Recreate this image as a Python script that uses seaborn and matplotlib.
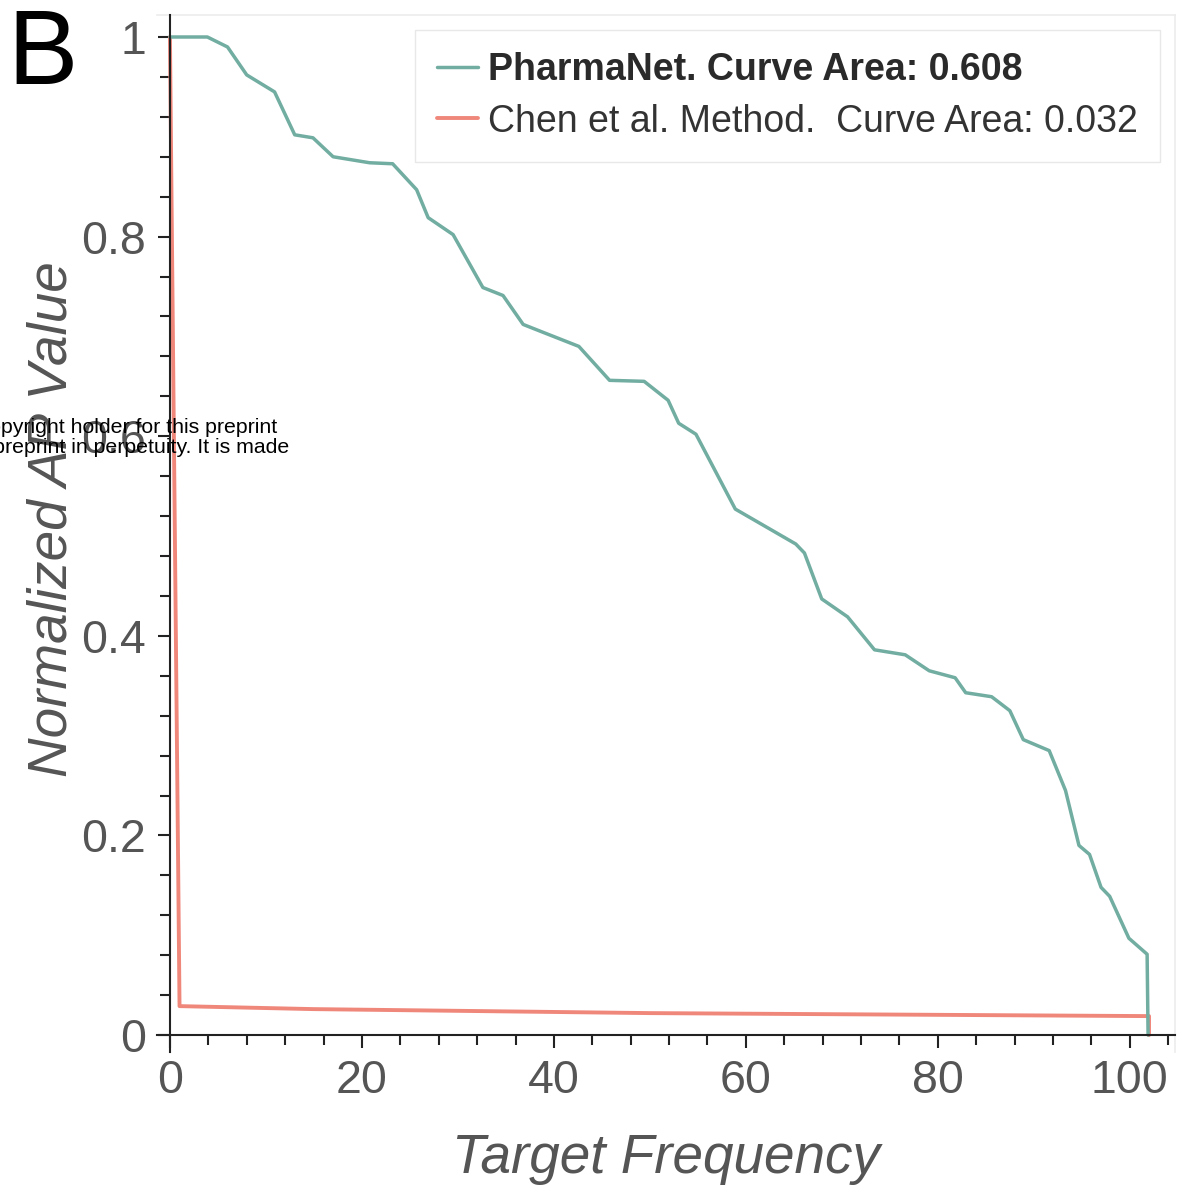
import matplotlib
matplotlib.use("Agg")
import matplotlib.pyplot as plt
from matplotlib.ticker import MultipleLocator
import seaborn as sns

# values
pharmanet_x = [0, 3.9, 6.0, 8.0, 10.9, 13.0, 14.9, 17.0, 20.8, 23.2, 25.7, 26.9, 29.5,
               32.6, 34.7, 36.8, 38.9, 42.6, 45.8, 49.4, 51.9, 53.0, 54.8, 58.9, 61.6,
               65.2, 66.1, 67.9, 70.6, 73.4, 76.6, 79.1, 81.8, 82.9, 85.6, 87.5, 88.9,
               91.6, 93.3, 94.7, 95.8, 97.0, 97.9, 99.9, 101.8, 101.9]
pharmanet_y = [1.0, 1.0, 0.99, 0.962, 0.945, 0.902, 0.899, 0.880, 0.874, 0.873, 0.847,
               0.819, 0.802, 0.749, 0.741, 0.712, 0.704, 0.690, 0.656, 0.655, 0.636,
               0.613, 0.602, 0.527, 0.512, 0.492, 0.483, 0.437, 0.419, 0.386, 0.381,
               0.365, 0.358, 0.343, 0.339, 0.325, 0.296, 0.285, 0.245, 0.190, 0.181,
               0.148, 0.139, 0.097, 0.081, 0.0]
chen_x = [0, 1.0, 15, 50, 102, 102]
chen_y = [1.0, 0.029, 0.026, 0.022, 0.019, 0.0]

labels = ["PharmaNet. Curve Area: 0.608", "Chen et al. Method.  Curve Area: 0.032"]
colors = ["#72ada2", "#f0877b"]
x_ticks = [0, 20, 40, 60, 80, 100]
y_ticks = [0, 0.2, 0.4, 0.6, 0.8, 1]
y_ticklabels = ["0", "0.2", "0.4", "0.6", "0.8", "1"]

sns.set_theme(style="white")
plt.rcParams["font.family"] = ["Liberation Sans", "DejaVu Sans"]

fig = plt.figure(figsize=(11.83, 11.94), dpi=100)
ax = fig.add_axes([0.1331, 0.1189, 0.8601, 0.8685])

sns.lineplot(x=chen_x, y=chen_y, ax=ax, color=colors[1], lw=2.8, sort=False,
             estimator=None, label=labels[1], zorder=2)
sns.lineplot(x=pharmanet_x, y=pharmanet_y, ax=ax, color=colors[0], lw=2.5, sort=False,
             estimator=None, label=labels[0], zorder=3)

ax.set_xlim(-1.3, 104.7)
ax.set_ylim(-0.017, 1.022)

# axes cross at the origin, faint frame on top and right
ax.spines["left"].set_position(("data", 0))
ax.spines["bottom"].set_position(("data", 0))
for s in ["left", "bottom"]:
    ax.spines[s].set_color("#222222")
    ax.spines[s].set_linewidth(1.5)
    ax.spines[s].set_zorder(5)
for s in ["top", "right"]:
    ax.spines[s].set_color("#ececec")
    ax.spines[s].set_linewidth(1.2)

ax.set_xticks(x_ticks)
ax.set_yticks(y_ticks)
ax.set_yticklabels(y_ticklabels)
ax.xaxis.set_minor_locator(MultipleLocator(4))
ax.yaxis.set_minor_locator(MultipleLocator(0.04))
ax.tick_params(which="both", direction="out", color="#222222", width=1.5,
               labelcolor="#555555", bottom=True, left=True)
ax.tick_params(which="major", length=9, labelsize=33.5, pad=8)
ax.tick_params(which="minor", length=7)

ax.set_xlabel("Target Frequency", fontsize=39.5, style="italic", color="#555555", labelpad=22)
ax.set_ylabel("")
fig.text(0.044, 0.565, "Normalized AP Value", fontsize=39.5, style="italic",
         color="#555555", rotation=90, ha="center", va="center")

handles, _ = ax.get_legend_handles_labels()
leg = ax.legend(handles[::-1], labels, loc="upper right",
                bbox_to_anchor=(1160 / 1183, 1 - 30 / 1194), bbox_transform=fig.transFigure,
                borderaxespad=0, fontsize=27, handlelength=1.1, handletextpad=0.25,
                labelspacing=0.4, borderpad=0.6, frameon=True, fancybox=False,
                framealpha=1, edgecolor="#e8e8e8")
for t in leg.get_texts():
    t.set_color("#333333")
leg.get_texts()[0].set_fontweight("bold")
leg.get_texts()[0].set_color("#2a2a2a")

# panel letter and the clipped preprint notice
fig.text(7 / 1183, 1 - 84 / 1194, "B", fontsize=76, color="black", va="baseline")
fig.text(277 / 1183, 1 - 433 / 1194, "The copyright holder for this preprint",
         fontsize=15.3, color="black", ha="right", va="baseline", zorder=10)
fig.text(289 / 1183, 1 - 453 / 1194, "display the preprint in perpetuity. It is made",
         fontsize=15.3, color="black", ha="right", va="baseline", zorder=10)

fig.savefig("out.png", dpi=100)
